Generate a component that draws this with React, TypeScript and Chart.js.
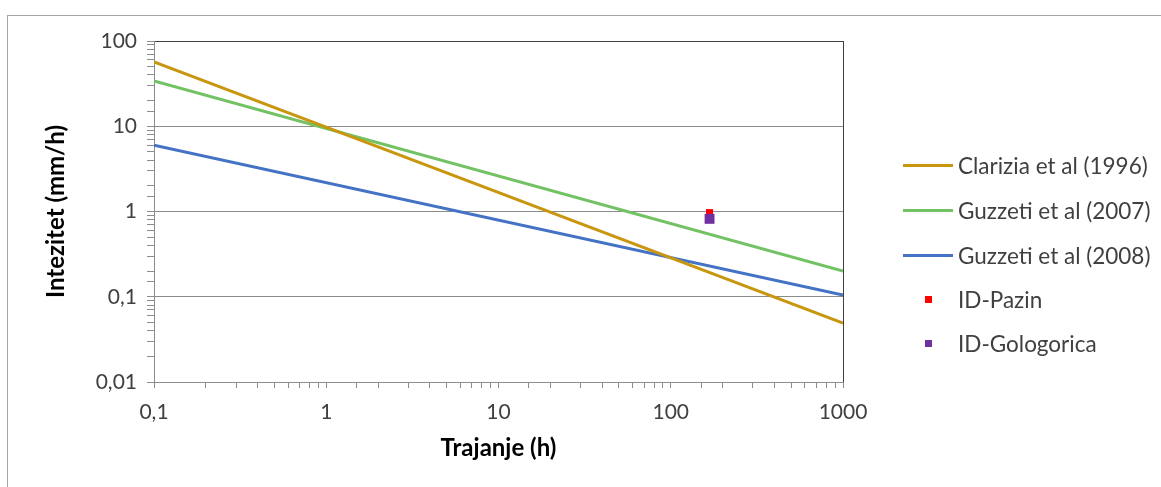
import { useEffect, useRef } from "react";
import Chart from "chart.js/auto";

// durations (h) at the two ends of each threshold line
const lineDurations = [0.1, 1000];
const clarizia = [57, 0.049];
const guzzetti2007 = [34, 0.2];
const guzzetti2008 = [6.0, 0.105];

// observed events
const eventDuration = [168];
const pazin = [0.97];
const gologorica = [0.82];

const yTicks = [0.01, 0.1, 1, 10, 100];
const xTicks = [0.1, 1, 10, 100, 1000];

const FONT = "Lato, 'Open Sans', sans-serif";

const legendItems = [
  { label: "Clarizia et al (1996)", color: "#C8960F", kind: "line" },
  { label: "Guzzeti et al (2007)", color: "#72C264", kind: "line" },
  { label: "Guzzeti et al (2008)", color: "#4472C4", kind: "line" },
  { label: "ID-Pazin", color: "#FF0000", kind: "point" },
  { label: "ID-Gologorica", color: "#7030A0", kind: "point" },
];

const isMajor = (v: number) => Math.abs(Math.log10(v) - Math.round(Math.log10(v))) < 1e-6;
const fmt = (v: number) => String(v).replace(".", ",");

function pairs(xs: number[], ys: number[]) {
  return ys.map((y, i) => ({ x: xs[i], y }));
}

function ThresholdChart() {
  const ref = useRef<HTMLCanvasElement>(null);

  useEffect(() => {
    const canvas = ref.current;
    if (!canvas) return;

    const chart = new Chart(canvas, {
      type: "scatter",
      data: {
        datasets: [
          {
            label: legendItems[0].label,
            data: pairs(lineDurations, clarizia),
            showLine: true,
            borderColor: legendItems[0].color,
            borderWidth: 3,
            pointRadius: 0,
            order: 2,
          },
          {
            label: legendItems[1].label,
            data: pairs(lineDurations, guzzetti2007),
            showLine: true,
            borderColor: legendItems[1].color,
            borderWidth: 3,
            pointRadius: 0,
            order: 2,
          },
          {
            label: legendItems[2].label,
            data: pairs(lineDurations, guzzetti2008),
            showLine: true,
            borderColor: legendItems[2].color,
            borderWidth: 3,
            pointRadius: 0,
            order: 2,
          },
          {
            label: legendItems[3].label,
            data: pairs(eventDuration, pazin),
            pointStyle: "rect",
            pointRadius: 5,
            backgroundColor: legendItems[3].color,
            borderWidth: 0,
            order: 1,
          },
          {
            label: legendItems[4].label,
            data: pairs(eventDuration, gologorica),
            pointStyle: "rect",
            pointRadius: 7,
            backgroundColor: legendItems[4].color,
            borderWidth: 0,
            order: 0,
          },
        ],
      },
      options: {
        animation: false,
        responsive: false,
        maintainAspectRatio: false,
        layout: { padding: { left: 38, top: 41, right: 318, bottom: 20 } },
        plugins: {
          legend: { display: false },
          tooltip: { enabled: false },
        },
        scales: {
          x: {
            type: "logarithmic",
            min: xTicks[0],
            max: xTicks[xTicks.length - 1],
            border: { color: "#8C8C8C", width: 1 },
            grid: {
              color: (c: any) => (c.tick && c.tick.value === 1000 ? "#404040" : "rgba(0,0,0,0)"),
              tickColor: "#8C8C8C",
              tickLength: 6,
            },
            ticks: {
              autoSkip: false,
              maxRotation: 0,
              padding: 12,
              color: "#404040",
              font: { family: FONT, size: 21 },
              callback: (v: any) => (isMajor(Number(v)) ? fmt(Number(v)) : ""),
            },
            title: {
              display: true,
              text: "Trajanje (h)",
              color: "#000",
              font: { family: FONT, size: 24, weight: "bold" },
            },
            afterFit: (axis: any) => {
              axis.height = 85;
            },
          },
          y: {
            type: "logarithmic",
            min: yTicks[0],
            max: yTicks[yTicks.length - 1],
            border: { color: "#8C8C8C", width: 1 },
            grid: {
              color: (c: any) =>
                c.tick && isMajor(c.tick.value)
                  ? c.tick.value === 100
                    ? "#404040"
                    : "#8C8C8C"
                  : "rgba(0,0,0,0)",
              tickColor: "#8C8C8C",
              tickLength: 7,
            },
            ticks: {
              autoSkip: false,
              padding: 10,
              color: "#404040",
              font: { family: FONT, size: 21 },
              callback: (v: any) => (isMajor(Number(v)) ? fmt(Number(v)) : ""),
            },
            title: {
              display: true,
              text: "Intezitet (mm/h)",
              color: "#000",
              font: { family: FONT, size: 24, weight: "bold" },
            },
            afterFit: (axis: any) => {
              axis.width = 116;
            },
          },
        },
      },
    });
    return () => chart.destroy();
  }, []);

  return <canvas ref={ref} width={1161} height={487} style={{ position: "absolute", left: 0, top: 0 }} />;
}

export default function App() {
  const rowY = [165, 210, 255, 299, 343];
  return (
    <div style={{ position: "fixed", left: 0, top: 0, width: 1161, height: 487, background: "#fff", overflow: "hidden" }}>
      <div
        style={{
          position: "absolute",
          left: 7,
          top: 15,
          width: 1200,
          height: 500,
          borderLeft: "1px solid #A6A6A6",
          borderTop: "1px solid #A6A6A6",
        }}
      />
      <ThresholdChart />
      {legendItems.map((item, i) => (
        <div
          key={item.label}
          style={{
            position: "absolute",
            left: 900,
            top: rowY[i] - 14,
            height: 28,
            display: "flex",
            alignItems: "center",
            fontFamily: FONT,
            fontSize: 22.5,
            color: "#404040",
            whiteSpace: "nowrap",
          }}
        >
          <div style={{ width: 56, display: "flex", justifyContent: "center" }}>
            {item.kind === "line" ? (
              <div style={{ width: 50, height: 3, background: item.color }} />
            ) : (
              <div style={{ width: 7, height: 7, background: item.color }} />
            )}
          </div>
          <span style={{ marginLeft: 2 }}>{item.label}</span>
        </div>
      ))}
    </div>
  );
}
